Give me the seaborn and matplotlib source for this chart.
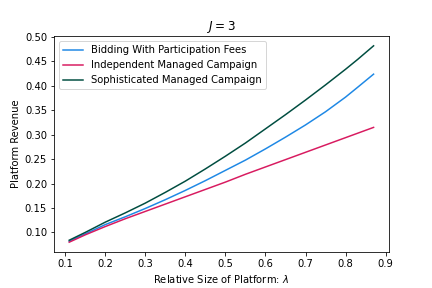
import pandas as pd
import matplotlib
matplotlib.use("Agg")
import matplotlib.pyplot as plt
import seaborn as sns

# values
lam = [0.11, 0.15, 0.20, 0.25, 0.30, 0.35, 0.40, 0.45, 0.50, 0.55,
       0.60, 0.65, 0.70, 0.75, 0.80, 0.83, 0.87]
bidding = [0.082, 0.097, 0.116, 0.132, 0.149, 0.167, 0.186, 0.206, 0.227, 0.248,
           0.271, 0.295, 0.320, 0.347, 0.377, 0.397, 0.424]
independent = [0.080, 0.095, 0.112, 0.128, 0.143, 0.158, 0.173, 0.188, 0.203, 0.219,
               0.234, 0.249, 0.264, 0.279, 0.294, 0.303, 0.315]
sophisticated = [0.084, 0.100, 0.121, 0.140, 0.160, 0.182, 0.205, 0.230, 0.256, 0.283,
                 0.312, 0.341, 0.371, 0.402, 0.434, 0.454, 0.482]

series_names = ["Bidding With Participation Fees",
                "Independent Managed Campaign",
                "Sophisticated Managed Campaign"]
colors = ["#1E88E5", "#D81B60", "#004D40"]

df = pd.DataFrame({
    "lam": lam * 3,
    "revenue": bidding + independent + sophisticated,
    "series": [n for n in series_names for _ in lam],
})

fig, ax = plt.subplots(figsize=(6, 4), dpi=72)
fig.subplots_adjust(bottom=0.125, top=0.875)
sns.lineplot(data=df, x="lam", y="revenue", hue="series",
             palette=dict(zip(series_names, colors)), ax=ax)
ax.set_title("$J = 3$")
ax.set_xlabel("Relative Size of Platform: $\\lambda$")
ax.set_ylabel("Platform Revenue")
ax.set_yticks([0.10, 0.15, 0.20, 0.25, 0.30, 0.35, 0.40, 0.45, 0.50])
ax.legend(loc="upper left", title=None)
fig.savefig("out.png", dpi=72)
